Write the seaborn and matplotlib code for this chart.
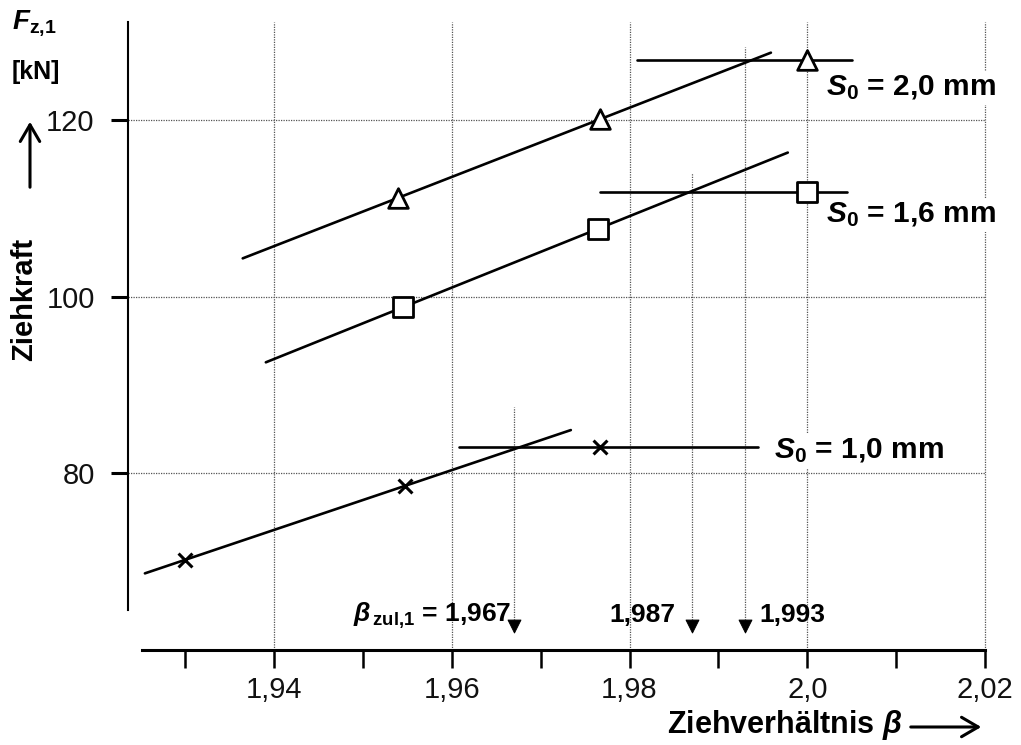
import numpy as np
import pandas as pd
import matplotlib
matplotlib.use("Agg")
import matplotlib.pyplot as plt
import seaborn as sns

# --- data -------------------------------------------------------------
series_names = ["S0 = 2,0 mm", "S0 = 1,6 mm", "S0 = 1,0 mm"]
series_labels = [r"$\mathbfit{S}_{\mathbf{0}}$ = 2,0 mm",
                 r"$\mathbfit{S}_{\mathbf{0}}$ = 1,6 mm",
                 r"$\mathbfit{S}_{\mathbf{0}}$ = 1,0 mm"]
series_markers = ["^", "s", "x"]

# measured drawing ratio / drawing force per sheet thickness
beta_s20 = [1.954, 1.9767, 2.000]
force_s20 = [111.2, 120.1, 126.8]
beta_s16 = [1.9545, 1.9765, 2.000]
force_s16 = [98.8, 107.7, 111.8]
beta_s10 = [1.930, 1.9548, 1.9767]
force_s10 = [70.2, 78.6, 83.0]

# extent of the rising line (through the first two points) and of the
# horizontal limit line (through the last point)
rise_from = [1.9365, 1.9391, 1.9255]
rise_to = [1.9959, 1.9978, 1.9734]
flat_from = [1.9808, 1.9767, 1.9608]
flat_to = [2.0050, 2.0045, 1.9944]

# permissible drawing ratios (intersections)
beta_zul = [1.967, 1.987, 1.993]
beta_zul_text = [r"$\mathbfit{\beta}_{\,\mathbf{zul{,}1}}$ = 1,967", "1,987", "1,993"]
beta_zul_top = [87.5, 114.0, 128.3]

x_ticks = [1.93, 1.94, 1.95, 1.96, 1.97, 1.98, 1.99, 2.00, 2.01, 2.02]
x_tick_labels = ["", "1,94", "", "1,96", "", "1,98", "", "2,0", "", "2,02"]
x_grid = [1.94, 1.96, 1.98, 2.00, 2.02]
y_ticks = [80, 100, 120]
y_tick_labels = ["80", "100", "120"]

# --- style ------------------------------------------------------------
sns.set_theme(style="white")
plt.rcParams.update({
    "font.family": ["Liberation Sans", "DejaVu Sans"],
    "text.color": "black",
    "axes.labelcolor": "black",
    "mathtext.fontset": "custom",
    "mathtext.rm": "Liberation Sans",
    "mathtext.bf": "Liberation Sans:bold",
    "mathtext.it": "Liberation Sans:italic",
    "mathtext.bfit": "Liberation Sans:bold:italic",
})

fig = plt.figure(figsize=(10.21, 7.45), dpi=100)
ax = fig.add_axes([128 / 1021, 1 - 650 / 745, (1003 - 128) / 1021, (650 - 22) / 745])
ax.set_xlim(1.9236, 2.0220)
ax.set_ylim(60.0, 131.1)

grid_kw = dict(color="#555555", lw=0.9, linestyles=(0, (1, 1)), zorder=1)
ax.vlines(x_grid, 60.0, 131.1, **grid_kw)
ax.hlines(y_ticks, 1.9236, 2.02, **grid_kw)

# --- measurements and construction lines ------------------------------
betas = [beta_s20, beta_s16, beta_s10]
forces = [force_s20, force_s16, force_s10]
points = pd.concat([
    pd.DataFrame({"beta": b, "force": f, "series": n})
    for b, f, n in zip(betas, forces, series_names)
])

for i, name in enumerate(series_names):
    b = np.array(betas[i])
    f = np.array(forces[i])
    k, d = np.polyfit(b[:2], f[:2], 1)
    rise_x = np.array([rise_from[i], rise_to[i]])
    sns.lineplot(x=rise_x, y=k * rise_x + d, color="black", lw=1.9, ax=ax,
                 zorder=3, estimator=None, sort=False)
    sns.lineplot(x=[flat_from[i], flat_to[i]], y=[f[-1], f[-1]], color="black",
                 lw=1.9, ax=ax, zorder=3, estimator=None, sort=False)

    sub = points[points["series"] == name]
    mk = series_markers[i]
    if mk == "x":
        sns.scatterplot(data=sub, x="beta", y="force", marker="x", s=100,
                        color="black", linewidth=2.2, ax=ax, zorder=4)
    else:
        sns.scatterplot(data=sub, x="beta", y="force", marker=mk, s=200,
                        facecolor="white", edgecolor="black", linewidth=2.0,
                        ax=ax, zorder=4)

label_pos = [(2.0021, 122.8), (2.0021, 108.45), (1.9962, 81.7)]
for (lx, ly), txt in zip(label_pos, series_labels):
    ax.text(lx, ly, txt, fontsize=21.5, fontweight="bold", va="baseline", ha="left",
            zorder=5, bbox=dict(fc="white", ec="none", pad=2))

# --- permissible drawing ratios ---------------------------------------
ax.vlines(beta_zul, 63.4, beta_zul_top, **grid_kw)
sns.scatterplot(x=beta_zul, y=[62.7] * 3, marker="v", s=85, color="black",
                edgecolor="black", ax=ax, zorder=4)
offsets = [(-3, "right"), (-16, "right"), (14, "left")]
for b, txt, (dx, ha) in zip(beta_zul, beta_zul_text, offsets):
    ax.annotate(txt, (b, 63.2), xytext=(dx, 0), textcoords="offset pixels",
                ha=ha, va="baseline", fontsize=19, fontweight="bold", zorder=5)

# --- axes ---------------------------------------------------------------
for side in ("top", "right"):
    ax.spines[side].set_visible(False)
ax.spines["left"].set_bounds(64.5, 131.1)
ax.spines["left"].set_linewidth(1.5)
ax.spines["left"].set_color("black")
ax.spines["bottom"].set_bounds(1.9252, 2.02)
ax.spines["bottom"].set_linewidth(2.2)
ax.spines["bottom"].set_color("black")

ax.set_xticks(x_ticks, x_tick_labels)
ax.set_yticks(y_ticks, y_tick_labels)
ax.tick_params(axis="x", direction="out", length=13, width=1.8, pad=6,
               labelsize=21, color="black", labelcolor="#111111", bottom=True)
ax.tick_params(axis="y", direction="out", length=12, width=2.2, pad=12,
               labelsize=21, color="black", labelcolor="#111111", left=True)
ax.set_xlabel("")
ax.set_ylabel("")

# --- axis titles --------------------------------------------------------
W, H = 1021, 745
fig.text(12 / W, 1 - 29 / H, r"$\mathbfit{F}_{\mathbf{z{,}1}}$", fontsize=20,
         ha="left", va="baseline")
fig.text(12 / W, 1 - 79 / H, "[kN]", fontsize=18, fontweight="bold",
         ha="left", va="baseline")
fig.text(24 / W, 1 - 299 / H, "Ziehkraft", fontsize=21, fontweight="bold",
         rotation=90, ha="center", va="center")
fig.patches.append(matplotlib.patches.FancyArrowPatch(
    (30 / W, 1 - 190 / H), (30 / W, 1 - 119 / H), transform=fig.transFigure,
    arrowstyle="->,head_length=0.6,head_width=0.35", lw=2.2, color="black",
    mutation_scale=20))

fig.text(667 / W, 1 - 733 / H, r"Ziehverhältnis $\mathbfit{\beta}$", fontsize=22,
         fontweight="bold", ha="left", va="baseline")
fig.patches.append(matplotlib.patches.FancyArrowPatch(
    (908 / W, 1 - 727 / H), (984 / W, 1 - 727 / H), transform=fig.transFigure,
    arrowstyle="->,head_length=0.6,head_width=0.35", lw=2.2, color="black",
    mutation_scale=20))

fig.savefig("out.png", dpi=100)
